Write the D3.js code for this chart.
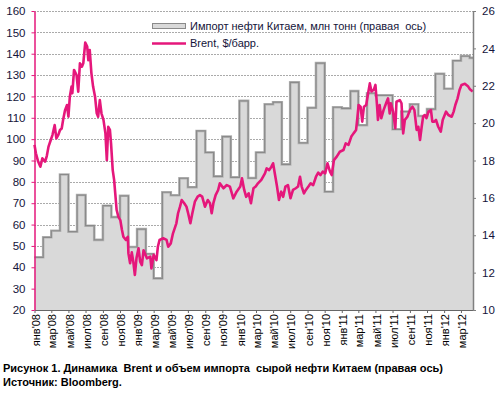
<!DOCTYPE html>
<html><head><meta charset="utf-8">
<script src="https://cdnjs.cloudflare.com/ajax/libs/d3/7.8.5/d3.min.js"></script>
<style>
body{margin:0;background:#fff}
svg{display:block;font-family:Arial,"Liberation Sans",sans-serif}
</style>
</head><body><div id="chart"></div>
<script>
// ---------- DATA ----------
const monthNames = ["янв","фев","мар","апр","май","июн","июл","авг","сен","окт","ноя","дек"];
const importStart = "2008-01-01";
// China crude imports, mln t (right axis), monthly from Jan 2008
const importValues = [
  12.82, 13.89, 14.24, 17.25, 14.19, 16.15, 14.51, 13.75, 15.58, 14.97, 16.11, 13.37,
  14.33, 13.00, 11.69, 16.30, 16.14, 17.05, 16.57, 19.58, 18.43, 17.15, 19.28, 17.10,
  21.19, 17.06, 18.43, 21.01, 21.12, 17.79, 22.18, 18.94, 20.82, 23.21, 16.33, 20.85,
  20.79, 21.71, 19.89, 21.60, 21.49, 21.49, 19.67, 20.62, 21.01, 20.38, 20.75, 22.64,
  21.84, 23.34, 23.59, 23.49
];
// Brent, $/bbl (left axis)
const brentSeries = [
  ["2008-01-01",97.3],["2008-01-06",93.4],["2008-01-14",89.5],["2008-01-22",87.1],["2008-01-29",91],
  ["2008-02-08",89.5],["2008-02-14",92.2],["2008-02-20",96.5],["2008-02-28",99.6],["2008-03-05",101.9],
  ["2008-03-13",106.6],["2008-03-19",100.4],["2008-03-26",102],["2008-04-01",104.3],["2008-04-07",105],
  ["2008-04-12",109],["2008-04-19",113.6],["2008-04-26",116],["2008-05-01",110.5],["2008-05-06",119.9],
  ["2008-05-12",124.6],["2008-05-15",121.5],["2008-05-21",132.4],["2008-05-30",130],["2008-06-05",122.2],
  ["2008-06-11",135.5],["2008-06-18",133.9],["2008-06-23",135.5],["2008-06-30",145.2],["2008-07-07",143.3],
  ["2008-07-11",137],["2008-07-16",141.7],["2008-07-22",130.8],["2008-07-28",124.6],["2008-08-04",119.9],
  ["2008-08-10",112.1],["2008-08-15",110.5],["2008-08-21",118.3],["2008-08-27",112],["2008-09-03",109],
  ["2008-09-10",102.7],["2008-09-15",90.2],["2008-09-20",105.8],["2008-09-26",104.3],["2008-09-30",98],
  ["2008-10-06",85.5],["2008-10-11",80.9],["2008-10-15",74.6],["2008-10-20",66.8],["2008-10-26",63.7],
  ["2008-11-02",62.1],["2008-11-08",57.5],["2008-11-13",54.3],["2008-11-22",52.8],["2008-11-29",54.3],
  ["2008-12-01",46.5],["2008-12-07",41.9],["2008-12-13",47],["2008-12-18",43],["2008-12-24",36.4],
  ["2008-12-30",44.5],["2009-01-06",48.9],["2009-01-12",42.6],["2009-01-18",41],["2009-01-24",48],
  ["2009-02-05",44.2],["2009-02-17",45],["2009-02-21",39.5],["2009-03-01",45.8],["2009-03-11",43.4],
  ["2009-03-16",49.6],["2009-03-22",52.8],["2009-04-04",53.6],["2009-04-16",52.8],["2009-04-22",49.6],
  ["2009-05-01",51.2],["2009-05-09",55.9],["2009-05-15",58.2],["2009-05-21",60.6],["2009-05-27",65.3],
  ["2009-06-03",68.4],["2009-06-09",71.5],["2009-06-18",70],["2009-06-26",68.4],["2009-07-02",65.3],
  ["2009-07-10",60.6],["2009-07-17",65.3],["2009-07-26",70.7],["2009-08-05",73.1],["2009-08-13",73.8],
  ["2009-08-21",73.1],["2009-08-31",68.4],["2009-09-10",71.5],["2009-09-18",70],["2009-09-24",65.3],
  ["2009-09-30",70],["2009-10-08",73.8],["2009-10-17",76.2],["2009-10-23",79.3],["2009-11-05",77],
  ["2009-11-17",78.5],["2009-11-28",77.8],["2009-12-10",72.3],["2009-12-22",75.4],["2010-01-04",77.8],
  ["2010-01-10",81.7],["2010-01-18",76.2],["2010-01-25",73],["2010-02-03",74.6],["2010-02-11",70],
  ["2010-02-20",77],["2010-02-28",77.8],["2010-03-08",79.3],["2010-03-20",80.9],["2010-04-02",84],
  ["2010-04-08",86.3],["2010-04-17",85.5],["2010-04-25",87.1],["2010-05-01",88.7],["2010-05-07",84],
  ["2010-05-15",77.8],["2010-05-22",71.5],["2010-05-30",75.4],["2010-06-06",73],["2010-06-14",77.8],
  ["2010-06-23",78.5],["2010-07-02",72.3],["2010-07-11",76.2],["2010-07-21",77],["2010-07-29",77.8],
  ["2010-08-05",82.4],["2010-08-11",77.8],["2010-08-19",74.6],["2010-08-26",76.2],["2010-09-04",77.8],
  ["2010-09-12",79.3],["2010-09-21",78.5],["2010-10-01",82.4],["2010-10-09",84.3],["2010-10-17",83.2],
  ["2010-10-25",84.8],["2010-11-03",84],["2010-11-11",88.7],["2010-11-20",84.8],["2010-11-26",83.2],
  ["2010-12-04",90.2],["2010-12-14",91.8],["2010-12-25",94.1],["2011-01-07",94.9],["2011-01-15",98],
  ["2011-01-25",97.3],["2011-02-04",101.2],["2011-02-12",102.7],["2011-02-21",104.3],["2011-02-26",110.5],
  ["2011-03-02",116],["2011-03-09",115.2],["2011-03-15",108.2],["2011-03-21",115.2],["2011-03-29",116],
  ["2011-04-05",121.5],["2011-04-11",126.1],["2011-04-17",122.3],["2011-04-25",123.1],["2011-05-01",125.4],
  ["2011-05-07",115.2],["2011-05-10",109],["2011-05-16",116],["2011-05-22",109.8],["2011-05-30",113.6],
  ["2011-06-10",117.5],["2011-06-15",119.1],["2011-06-21",112],["2011-06-25",116.8],["2011-07-03",112.9],
  ["2011-07-11",105.1],["2011-07-15",117.5],["2011-07-27",118.3],["2011-08-02",116.8],["2011-08-08",102.7],
  ["2011-08-14",109],["2011-08-23",110.5],["2011-09-01",113.6],["2011-09-10",115.2],["2011-09-17",113.6],
  ["2011-09-25",104.3],["2011-10-01",105.8],["2011-10-07",99.6],["2011-10-13",105.8],["2011-10-18",110.5],
  ["2011-10-24",111.3],["2011-10-30",109.8],["2011-11-06",112.9],["2011-11-15",113.6],["2011-11-20",108.2],
  ["2011-11-27",108.2],["2011-12-03",109],["2011-12-11",105.8],["2011-12-20",103.5],["2011-12-27",109],
  ["2012-01-08",112.9],["2012-01-16",111.3],["2012-01-28",110.5],["2012-02-04",112.9],["2012-02-10",116],
  ["2012-02-18",119.1],["2012-02-25",123],["2012-03-03",125.4],["2012-03-15",125.9],["2012-03-27",124.6],
  ["2012-04-02",123.4],["2012-04-12",122.3]
];
const leftTickValues = [20,30,40,50,60,70,80,90,100,110,120,130,140,150,160];
const rightTickValues = [10,12,14,16,18,20,22,24,26];
const legendLabels = ["Импорт нефти Китаем, млн тонн (правая  ось)", "Brent, $/барр."];
const captionLines = ["Рисунок 1. Динамика  Brent и объем импорта  сырой нефти Китаем (правая ось)", "Источник: Bloomberg."];

// ---------- CHART ----------
(function () {
const W = 503, H = 412;
const PINK = "#e5177b";
const TXT = "#14143a";
const FONT = "Arial, 'Liberation Sans', sans-serif";
const parse = d3.timeParse("%Y-%m-%d");
const x0 = parse(importStart), x1 = parse("2012-04-13");
const pL = 34.5, pR = 473, pT = 11, pB = 310;

const x = d3.scaleTime().domain([x0, x1]).range([pL, pR]);
const yL = d3.scaleLinear().domain([20,160]).range([pB, pT]);
const yR = d3.scaleLinear().domain([10,26]).range([pB, pT]);

const svg = d3.select("#chart").append("svg").attr("width", W).attr("height", H);
svg.append("rect").attr("width", W).attr("height", H).attr("fill", "#fff");

// gridlines
svg.append("g").selectAll("line").data(leftTickValues.filter(v => v > 20)).join("line")
  .attr("x1", pL).attr("x2", pR)
  .attr("y1", d => Math.round(yL(d)) + 0.5).attr("y2", d => Math.round(yL(d)) + 0.5)
  .attr("stroke", "#555").attr("stroke-width", 1).attr("stroke-dasharray", "1,2");

// import step area
const imp = importValues.map((v, i) => ({d: d3.timeMonth.offset(x0, i), v}));
imp.push({d: x1, v: importValues[importValues.length - 1]});
svg.append("path").datum(imp)
  .attr("d", d3.area().curve(d3.curveStepAfter).x(d => x(d.d)).y0(pB).y1(d => yR(d.v)))
  .attr("fill", "#d9d9d9");
const stepLine = d3.line().curve(d3.curveStepAfter).x(d => x(d.d)).y(d => yR(d.v));
svg.append("path").datum(imp).attr("d", stepLine)
  .attr("fill", "none").attr("stroke", "#b4b4b4").attr("stroke-width", 2.6);
svg.append("path").datum(imp).attr("d", stepLine)
  .attr("fill", "none").attr("stroke", "#8a8a8a").attr("stroke-width", 1.2);

// Brent line
const brent = brentSeries.map(([d, v]) => ({d: parse(d), v}));
svg.append("path").datum(brent)
  .attr("d", d3.line().x(d => x(d.d)).y(d => yL(d.v)))
  .attr("fill", "none").attr("stroke", PINK).attr("stroke-width", 2.6)
  .attr("stroke-linejoin", "round");

// axes
const gx = svg.append("g").attr("transform", `translate(0,${pB})`)
  .call(d3.axisBottom(x).ticks(d3.timeMonth.every(2)).tickSize(3).tickSizeOuter(0)
    .tickFormat(d => monthNames[d.getMonth()] + "'" + d3.timeFormat("%y")(d)));
gx.select(".domain").attr("stroke", "#666");
gx.selectAll(".tick line").attr("stroke", "#666");
gx.selectAll("text").attr("transform", "rotate(-90)").attr("x", -4).attr("y", 0)
  .attr("dy", "0.42em").style("text-anchor", "end")
  .attr("fill", "#000").style("font-size", "11px").style("font-family", FONT);

const gl = svg.append("g").attr("transform", `translate(${pL},0)`)
  .call(d3.axisLeft(yL).tickValues(leftTickValues).tickSize(3).tickSizeOuter(0).tickPadding(6));
gl.select(".domain").attr("stroke", PINK).attr("stroke-width", 1.5);
gl.selectAll(".tick line").attr("stroke", PINK);
gl.selectAll("text").attr("fill", TXT).style("font-size", "11.5px").style("font-family", FONT);

const gr = svg.append("g").attr("transform", `translate(${pR},0)`)
  .call(d3.axisRight(yR).tickValues(rightTickValues).tickSize(3).tickSizeOuter(0).tickPadding(6));
gr.select(".domain").attr("stroke", "#808080").attr("stroke-width", 1.5);
gr.selectAll(".tick line").attr("stroke", "#808080");
gr.selectAll("text").attr("fill", TXT).style("font-size", "11.5px").style("font-family", FONT);

// legend
const lg = svg.append("g");
lg.append("rect").attr("x", 152.5).attr("y", 23.5).attr("width", 33).attr("height", 5)
  .attr("fill", "#d9d9d9").attr("stroke", "#8a8a8a").attr("stroke-width", 1);
lg.append("line").attr("x1", 152).attr("x2", 186).attr("y1", 43.5).attr("y2", 43.5)
  .attr("stroke", PINK).attr("stroke-width", 2.5);
lg.selectAll("text").data(legendLabels).join("text")
  .attr("x", 190).attr("y", (d, i) => 30 + i * 17)
  .attr("fill", TXT).style("font-size", "11px").style("white-space", "pre")
  .text(d => d);

// caption
svg.selectAll(".cap").data(captionLines).join("text").attr("class", "cap")
  .attr("x", 3).attr("y", (d, i) => 372 + i * 14)
  .attr("fill", "#000").style("font-size", "11px").style("font-weight", "bold")
  .style("white-space", "pre").text(d => d);
})();
</script>
</body></html>
